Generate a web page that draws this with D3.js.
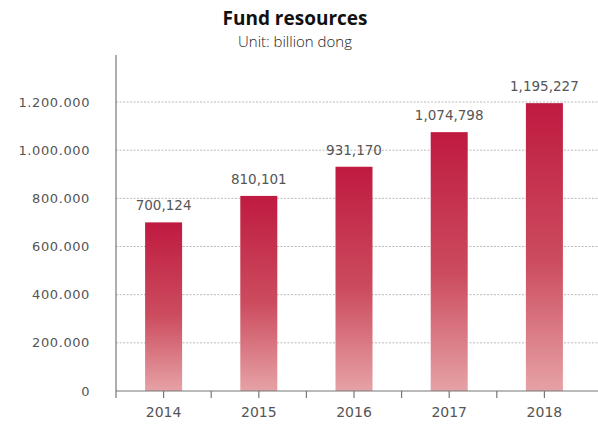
<!DOCTYPE html>
<html>
<head>
<meta charset="utf-8">
<script src="https://cdn.jsdelivr.net/npm/d3@7"></script>
<style>
  html, body { margin: 0; padding: 0; background: #fff; }
  svg { display: block; }
</style>
</head>
<body>
<svg id="chart" width="598" height="430"></svg>
<script>
// Fund resources, billion dong
const years = ["2014", "2015", "2016", "2017", "2018"];
const values = [700124, 810101, 931170, 1074798, 1195227];
const valueLabels = ["700,124", "810,101", "931,170", "1,074,798", "1,195,227"];
const yTicks = [0, 200000, 400000, 600000, 800000, 1000000, 1200000];
const yTickLabels = ["0", "200.000", "400.000", "600.000", "800.000", "1.000.000", "1.200.000"];

const svg = d3.select("#chart");
const plotLeft = 116, plotRight = 592, plotTop = 55, base = 391;

const x = d3.scaleBand().domain(years).range([plotLeft, plotRight]).paddingInner(0).paddingOuter(0);
const y = d3.scaleLinear().domain([0, 1200000]).range([base, 102]);

// bar gradient
const defs = svg.append("defs");
const grad = defs.append("linearGradient")
  .attr("id", "barGrad").attr("x1", 0).attr("y1", 0).attr("x2", 0).attr("y2", 1);
grad.append("stop").attr("offset", "0%").attr("stop-color", "#bf1a40");
grad.append("stop").attr("offset", "55%").attr("stop-color", "#cc4c5e");
grad.append("stop").attr("offset", "100%").attr("stop-color", "#e6a2a6");

// title
svg.append("text").attr("x", 295).attr("y", 25)
  .attr("text-anchor", "middle")
  .attr("font-family", "'Open Sans', sans-serif").attr("font-weight", 700)
  .attr("font-size", 19).attr("fill", "#111").text("Fund resources");
svg.append("text").attr("x", 295).attr("y", 47)
  .attr("text-anchor", "middle")
  .attr("font-family", "'Open Sans', sans-serif").attr("font-weight", 300)
  .attr("font-size", 15).attr("fill", "#222").text("Unit: billion dong");

// dotted gridlines
svg.append("g").selectAll("line")
  .data(yTicks.filter(d => d > 0))
  .join("line")
  .attr("x1", plotLeft).attr("x2", 598)
  .attr("y1", d => y(d)).attr("y2", d => y(d))
  .attr("stroke", "#b9b9b9").attr("stroke-width", 1)
  .attr("stroke-dasharray", "2,1.5");

// y tick labels
svg.append("g").selectAll("text")
  .data(yTicks)
  .join("text")
  .attr("x", 90).attr("y", d => y(d))
  .attr("dy", "0.35em")
  .attr("text-anchor", "end")
  .attr("font-family", "'DejaVu Sans', sans-serif").attr("font-size", 13)
  .attr("letter-spacing", 0.6)
  .attr("fill", "#555")
  .text((d, i) => yTickLabels[i]);

// bars
const barW = 37;
svg.append("g").selectAll("rect")
  .data(values)
  .join("rect")
  .attr("x", (d, i) => x(years[i]) + x.bandwidth() / 2 - barW / 2)
  .attr("y", d => y(d))
  .attr("width", barW)
  .attr("height", d => base - y(d))
  .attr("fill", "url(#barGrad)");

// value labels
svg.append("g").selectAll("text")
  .data(values)
  .join("text")
  .attr("x", (d, i) => x(years[i]) + x.bandwidth() / 2)
  .attr("y", d => y(d) - 12)
  .attr("text-anchor", "middle")
  .attr("font-family", "'DejaVu Sans', sans-serif").attr("font-size", 13.5)
  .attr("fill", "#555")
  .text((d, i) => valueLabels[i]);

// axis lines
svg.append("line").attr("x1", plotLeft).attr("x2", plotLeft).attr("y1", plotTop).attr("y2", base + 7)
  .attr("stroke", "#777").attr("stroke-width", 1.2);
svg.append("line").attr("x1", plotLeft).attr("x2", 598).attr("y1", base).attr("y2", base)
  .attr("stroke", "#777").attr("stroke-width", 1.2);

// x ticks: band boundaries and centers
const boundaries = years.map(d => x(d)).slice(1);
svg.append("g").selectAll("line")
  .data(boundaries)
  .join("line")
  .attr("x1", d => d).attr("x2", d => d)
  .attr("y1", base).attr("y2", base + 7)
  .attr("stroke", "#777").attr("stroke-width", 1.2);
svg.append("g").selectAll("line")
  .data(years)
  .join("line")
  .attr("x1", d => x(d) + x.bandwidth() / 2).attr("x2", d => x(d) + x.bandwidth() / 2)
  .attr("y1", base).attr("y2", base + 7)
  .attr("stroke", "#777").attr("stroke-width", 1.2);

// x labels
svg.append("g").selectAll("text")
  .data(years)
  .join("text")
  .attr("x", d => x(d) + x.bandwidth() / 2)
  .attr("y", 417)
  .attr("text-anchor", "middle")
  .attr("font-family", "'DejaVu Sans', sans-serif").attr("font-size", 14)
  .attr("fill", "#555")
  .text(d => d);
</script>
</body>
</html>
